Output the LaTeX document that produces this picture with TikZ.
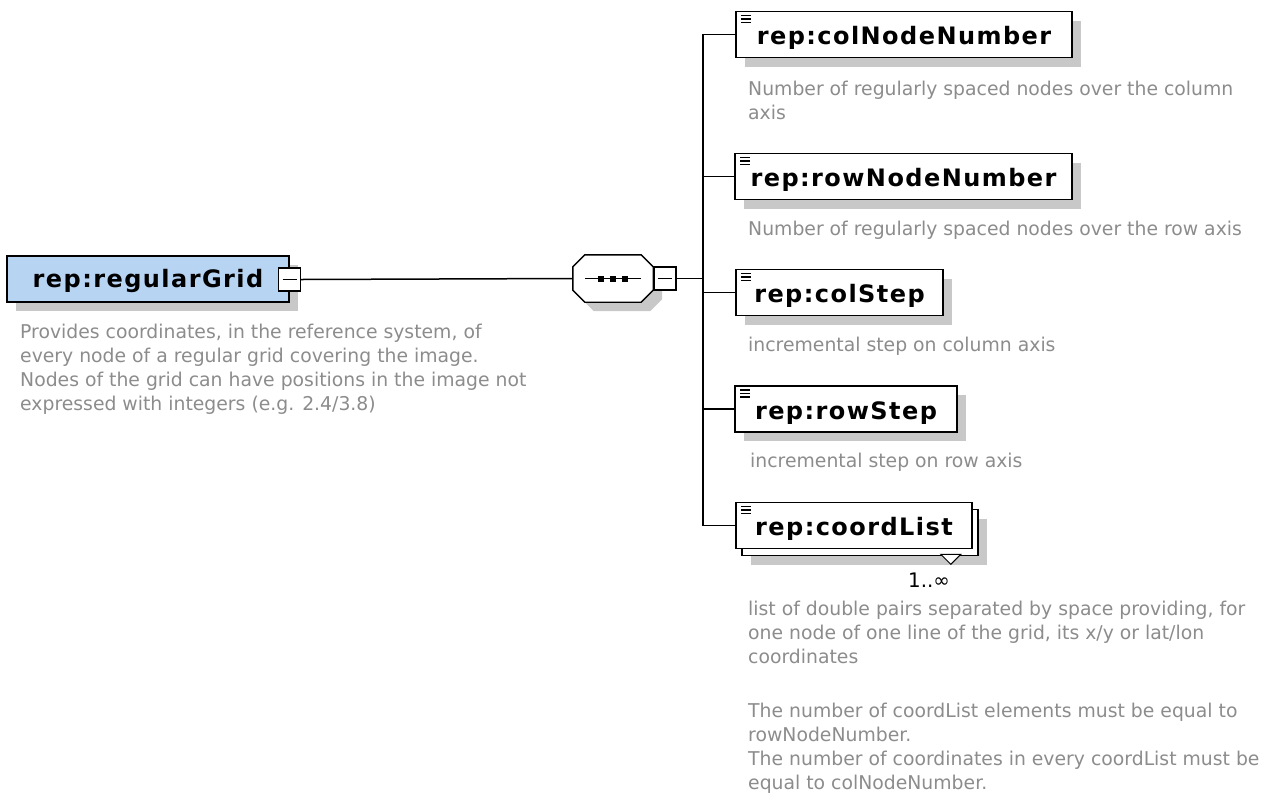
\documentclass[tikz,border=0pt]{standalone}
\usepackage{fontspec}
\usetikzlibrary{shadows,calc}
\setmainfont{DejaVu Sans}
\newfontfamily\titlefont[LetterSpace=6]{DejaVu Sans}
\newfontfamily\descfont[FakeStretch=0.99]{DejaVu Sans}
\definecolor{elemblue}{RGB}{184,212,243}
\definecolor{shadowgray}{RGB}{200,200,200}
\definecolor{descgray}{RGB}{140,140,140}
% octagon outline of the sequence compositor, offset by (#1,#2)
\newcommand\seqoutline[2]{($(seq.north west)+(#1+12,#2)$)
  -- ($(seq.north east)+(#1-12,#2)$) -- ($(seq.north east)+(#1,#2+12)$)
  -- ($(seq.south east)+(#1,#2-12)$) -- ($(seq.south east)+(#1-12,#2)$)
  -- ($(seq.south west)+(#1+12,#2)$) -- ($(seq.south west)+(#1,#2-12)$)
  -- ($(seq.north west)+(#1,#2+12)$) -- cycle}
% element name set on a baseline #1 below the box centre
\newcommand\ename[2]{\raisebox{-#1}[0pt][0pt]{#2}}
\begin{document}
\begin{tikzpicture}[x=1pt,y=-1pt,
  shadowed/.style={drop shadow={shadow xshift=9pt,shadow yshift=-9pt,fill=shadowgray,opacity=1}},
  element/.style={draw=black,line width=1.6pt,fill=white,inner sep=0pt,
    minimum height=46pt,font=\titlefont\bfseries\fontsize{24}{24}\selectfont},
  simple/.style={path picture={
      \foreach \dy in {4,7.5,11}
        \draw[line width=1.4pt]
          ([xshift=5pt,yshift=-\dy pt]path picture bounding box.north west)
          -- ++(10,0);}},
  minusbox/.style={draw=black,line width=1.4pt,fill=white,inner sep=0pt,
    minimum width=22pt,minimum height=23pt,
    path picture={\draw[line width=1.4pt]
      ([xshift=4pt]path picture bounding box.west)
      -- ([xshift=-4pt]path picture bounding box.east);}},
  compositor/.style={rectangle,draw=none,minimum width=80pt,minimum height=47pt,inner sep=0pt},
  conn/.style={line width=1.5pt,black},
  desc/.style={anchor=base west,inner sep=0pt,align=left,text=descgray,
    font=\descfont\fontsize{19}{24}\selectfont},
  mult/.style={anchor=base west,inner sep=0pt,text=black,
    font=\descfont\fontsize{20}{24}\selectfont}
]
\useasboundingbox (0,0) rectangle (1273,801);

% root element
\node[element,shadowed,fill=elemblue,minimum width=282pt] (grid) at (148,279)
  {\ename{8pt}{rep:regularGrid}\hspace{19pt}};
\node[minusbox] (gminus) at (289.5,279.5) {};

% sequence compositor
\node[compositor] (seq) at (613,278.5) {};
\fill[shadowgray] \seqoutline{9}{9};
\filldraw[fill=white,draw=black,line width=1.4pt] \seqoutline{0}{0};
\draw[conn] ($(seq.center)+(-28,0)$) -- ($(seq.center)+(28,0)$);
\foreach \dx in {-12,0,12}
  \fill ($(seq.center)+(\dx-3,-3)$) rectangle ++(6,6);
\node[minusbox,anchor=west] (sminus) at (seq.east) {};
\coordinate (bus) at (703,278.5);

% child elements
\node[element,shadowed,simple,minimum width=336pt] (c1) at (904,34.5)
  {\ename{10pt}{rep:colNodeNumber}};
\node[element,shadowed,simple,minimum width=337pt] (c2) at (903.5,176.5)
  {\ename{10pt}{rep:rowNodeNumber}};
\node[element,shadowed,simple,minimum width=207pt] (c3) at (839.5,292.5)
  {\ename{10pt}{rep:colStep}};
\node[element,shadowed,simple,minimum width=222pt] (c4) at (846,409)
  {\ename{10pt}{rep:rowStep}};
\node[element,shadowed,minimum width=236pt] (c5back) at (860,532.5) {};
\node[element,simple,minimum width=236pt] (c5) at (854,525.5)
  {\ename{10pt}{rep:coordList}};
\filldraw[fill=white,draw=black,line width=1pt]
  ($(c5back.south east)+(-38,-2)$) -- ++(20,0) -- ++(-10,10) -- cycle;

% connectors
\draw[conn] (gminus.east) -- (seq.west);
\draw[conn] (sminus.east) -- (bus);
\foreach \n in {c1,c2,c3,c4,c5}
  \draw[conn] (bus) |- (\n.west);

% annotations (anchored at the baseline of their last line)
\node[desc] (d0) at (20,410) {Provides coordinates, in the reference system, of\\
  every node of a regular grid covering the image.\\
  Nodes of the grid can have positions in the image not\\
  expressed with integers (e.g. 2.4/3.8)};
\node[desc] (d1) at (748,119) {Number of regularly spaced nodes over the column\\axis};
\node[desc] (d2) at (748,235) {Number of regularly spaced nodes over the row axis};
\node[desc] (d3) at (748,351) {incremental step on column axis};
\node[desc] (d4) at (750,467) {incremental step on row axis};
\node[mult] (m5) at (908,587) {1..∞};
\node[desc] (d5) at (748,789) {list of double pairs separated by space providing, for\\
  one node of one line of the grid, its x/y or lat/lon\\
  coordinates\\[30pt]
  The number of coordList elements must be equal to\\
  rowNodeNumber.\\
  The number of coordinates in every coordList must be\\
  equal to colNodeNumber.};
\end{tikzpicture}
\end{document}
